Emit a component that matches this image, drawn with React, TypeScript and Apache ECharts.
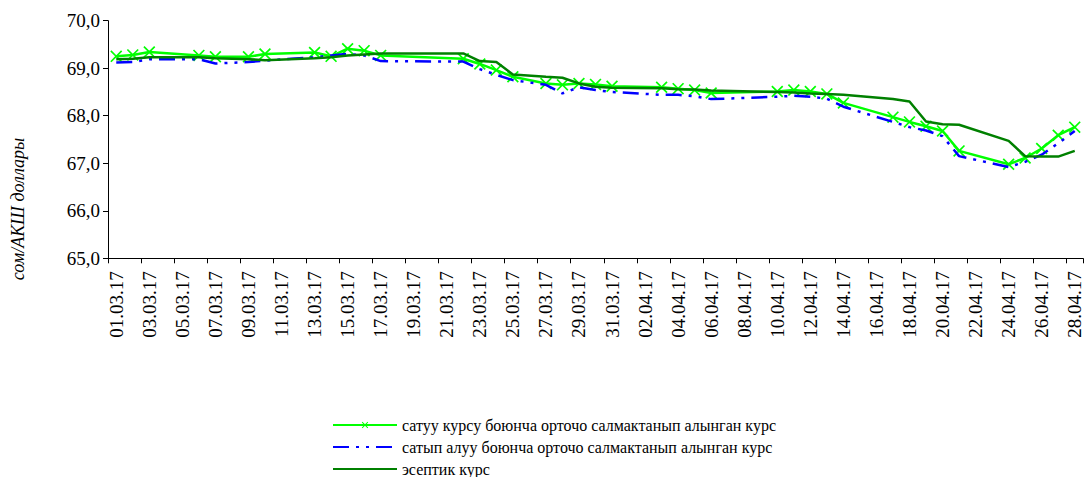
import React, { useEffect, useRef } from "react";
import * as echarts from "echarts";

const dates = [
  "01.03.17","02.03.17","03.03.17","04.03.17","05.03.17","06.03.17","07.03.17","08.03.17","09.03.17","10.03.17",
  "11.03.17","12.03.17","13.03.17","14.03.17","15.03.17","16.03.17","17.03.17","18.03.17","19.03.17","20.03.17",
  "21.03.17","22.03.17","23.03.17","24.03.17","25.03.17","26.03.17","27.03.17","28.03.17","29.03.17","30.03.17",
  "31.03.17","01.04.17","02.04.17","03.04.17","04.04.17","05.04.17","06.04.17","07.04.17","08.04.17","09.04.17",
  "10.04.17","11.04.17","12.04.17","13.04.17","14.04.17","15.04.17","16.04.17","17.04.17","18.04.17","19.04.17",
  "20.04.17","21.04.17","22.04.17","23.04.17","24.04.17","25.04.17","26.04.17","27.04.17","28.04.17",
];

const tradeDates = [
  "01.03.17","02.03.17","03.03.17","06.03.17","07.03.17","09.03.17","10.03.17","13.03.17","14.03.17","15.03.17",
  "16.03.17","17.03.17","22.03.17","23.03.17","24.03.17","25.03.17","27.03.17","28.03.17","29.03.17","30.03.17",
  "31.03.17","03.04.17","04.04.17","05.04.17","06.04.17","10.04.17","11.04.17","12.04.17","13.04.17","14.04.17",
  "17.04.17","18.04.17","19.04.17","20.04.17","21.04.17","24.04.17","25.04.17","26.04.17","27.04.17","28.04.17",
];

const sellRate = [
  69.25, 69.28, 69.34, 69.27, 69.24, 69.24, 69.30, 69.33, 69.25, 69.41,
  69.37, 69.27, 69.20, 69.09, 68.96, 68.82, 68.68, 68.65, 68.68, 68.66,
  68.62, 68.60, 68.57, 68.54, 68.48, 68.51, 68.54, 68.51, 68.46, 68.27,
  67.97, 67.87, 67.78, 67.68, 67.26, 66.98, 67.11, 67.31, 67.59, 67.76,
];

const buyRate = [
  69.12, 69.13, 69.19, 69.19, 69.10, 69.13, 69.16, 69.23, 69.27, 69.30,
  69.27, 69.15, 69.14, 68.98, 68.86, 68.75, 68.65, 68.47, 68.60, 68.54,
  68.50, 68.44, 68.44, 68.41, 68.35, 68.40, 68.42, 68.40, 68.36, 68.19,
  67.87, 67.76, 67.69, 67.57, 67.15, 66.92, 67.03, 67.18, 67.42, 67.68,
];

const officialRate = [
  69.19, 69.20, 69.23, 69.23, 69.21, 69.19, 69.17, 69.21, 69.23, 69.27,
  69.29, 69.31, 69.31, 69.15, 69.13, 68.87, 68.82, 68.80, 68.68, 68.61,
  68.59, 68.58, 68.56, 68.55, 68.53, 68.50, 68.49, 68.47, 68.46, 68.44,
  68.35, 68.30, 67.88, 67.82, 67.81, 67.47, 67.15, 67.14, 67.14, 67.26,
];

const seriesNames = [
  "сатуу курсу боюнча орточо салмактанып алынган курс",
  "сатып алуу боюнча орточо салмактанып алынган курс",
  "эсептик курс",
];
const yAxisTitle = "сом/АКШ доллары";

const FONT = "Liberation Serif";
const CROSS = "path://M0,1L1,0L5,4L9,0L10,1L6,5L10,9L9,10L5,6L1,10L0,9L4,5Z";

const pairs = (vals: number[]) => tradeDates.map((d, i) => [d, vals[i]]);

const legendTops = [412, 434, 456];

export default function App() {
  const ref = useRef<HTMLDivElement>(null);
  useEffect(() => {
    if (!ref.current) return;
    const chart = echarts.init(ref.current, undefined, { renderer: "svg" });
    const hidden = { color: "rgba(0,0,0,0)", borderColor: "rgba(0,0,0,0)", borderWidth: 0 };
    chart.setOption({
      animation: false,
      backgroundColor: "#ffffff",
      textStyle: { fontFamily: FONT },
      grid: { left: 108, right: 3, top: 20.7, bottom: 218.7 },
      xAxis: {
        type: "category",
        data: dates,
        boundaryGap: true,
        axisLine: { lineStyle: { color: "#000", width: 1 } },
        axisTick: { show: true, interval: 1, alignWithLabel: false, length: 5, lineStyle: { color: "#000" } },
        axisLabel: {
          interval: 1,
          rotate: 90,
          margin: 13,
          color: "#000",
          fontFamily: FONT,
          fontSize: 19,
        },
        splitLine: { show: false },
      },
      yAxis: {
        type: "value",
        min: 65,
        max: 70,
        interval: 1,
        axisLine: { show: true, lineStyle: { color: "#000", width: 1 } },
        axisTick: { show: true, length: 5, lineStyle: { color: "#000" } },
        axisLabel: {
          margin: 8,
          color: "#000",
          fontFamily: FONT,
          fontSize: 19,
          formatter: (v: number) => v.toFixed(1).replace(".", ","),
        },
        splitLine: { show: false },
      },
      legend: seriesNames.map((name, i) => ({
        orient: "vertical",
        left: 327,
        top: legendTops[i],
        itemWidth: 64,
        itemHeight: 8,
        itemGap: 0,
        textStyle: { fontFamily: FONT, fontSize: 16, color: "#000" },
        data: [i === 0 ? { name } : { name, itemStyle: hidden }],
      })),
      graphic: [
        {
          type: "text",
          x: 18,
          y: 209,
          rotation: Math.PI / 2,
          style: {
            text: yAxisTitle,
            font: `italic 18px ${FONT}`,
            fill: "#000",
            align: "center",
            verticalAlign: "middle",
          },
        },
      ],
      series: [
        {
          name: seriesNames[0],
          type: "line",
          data: pairs(sellRate),
          symbol: CROSS,
          symbolSize: 12,
          showSymbol: true,
          showAllSymbol: true,
          itemStyle: { color: "#00ff00" },
          lineStyle: { color: "#00ff00", width: 2.5 },
          z: 2,
        },
        {
          name: seriesNames[1],
          type: "line",
          data: pairs(buyRate),
          symbol: "none",
          itemStyle: { color: "#0000ff" },
          lineStyle: { color: "#0000ff", width: 2.5, type: [16, 7, 3, 7, 3, 7] },
          z: 3,
        },
        {
          name: seriesNames[2],
          type: "line",
          data: pairs(officialRate),
          symbol: "none",
          itemStyle: { color: "#008000" },
          lineStyle: { color: "#008000", width: 2.5 },
          z: 4,
        },
      ],
    });
    return () => chart.dispose();
  }, []);
  return (
    <div
      ref={ref}
      style={{ position: "fixed", left: 0, top: 0, width: 1086, height: 477, background: "#fff" }}
    />
  );
}
